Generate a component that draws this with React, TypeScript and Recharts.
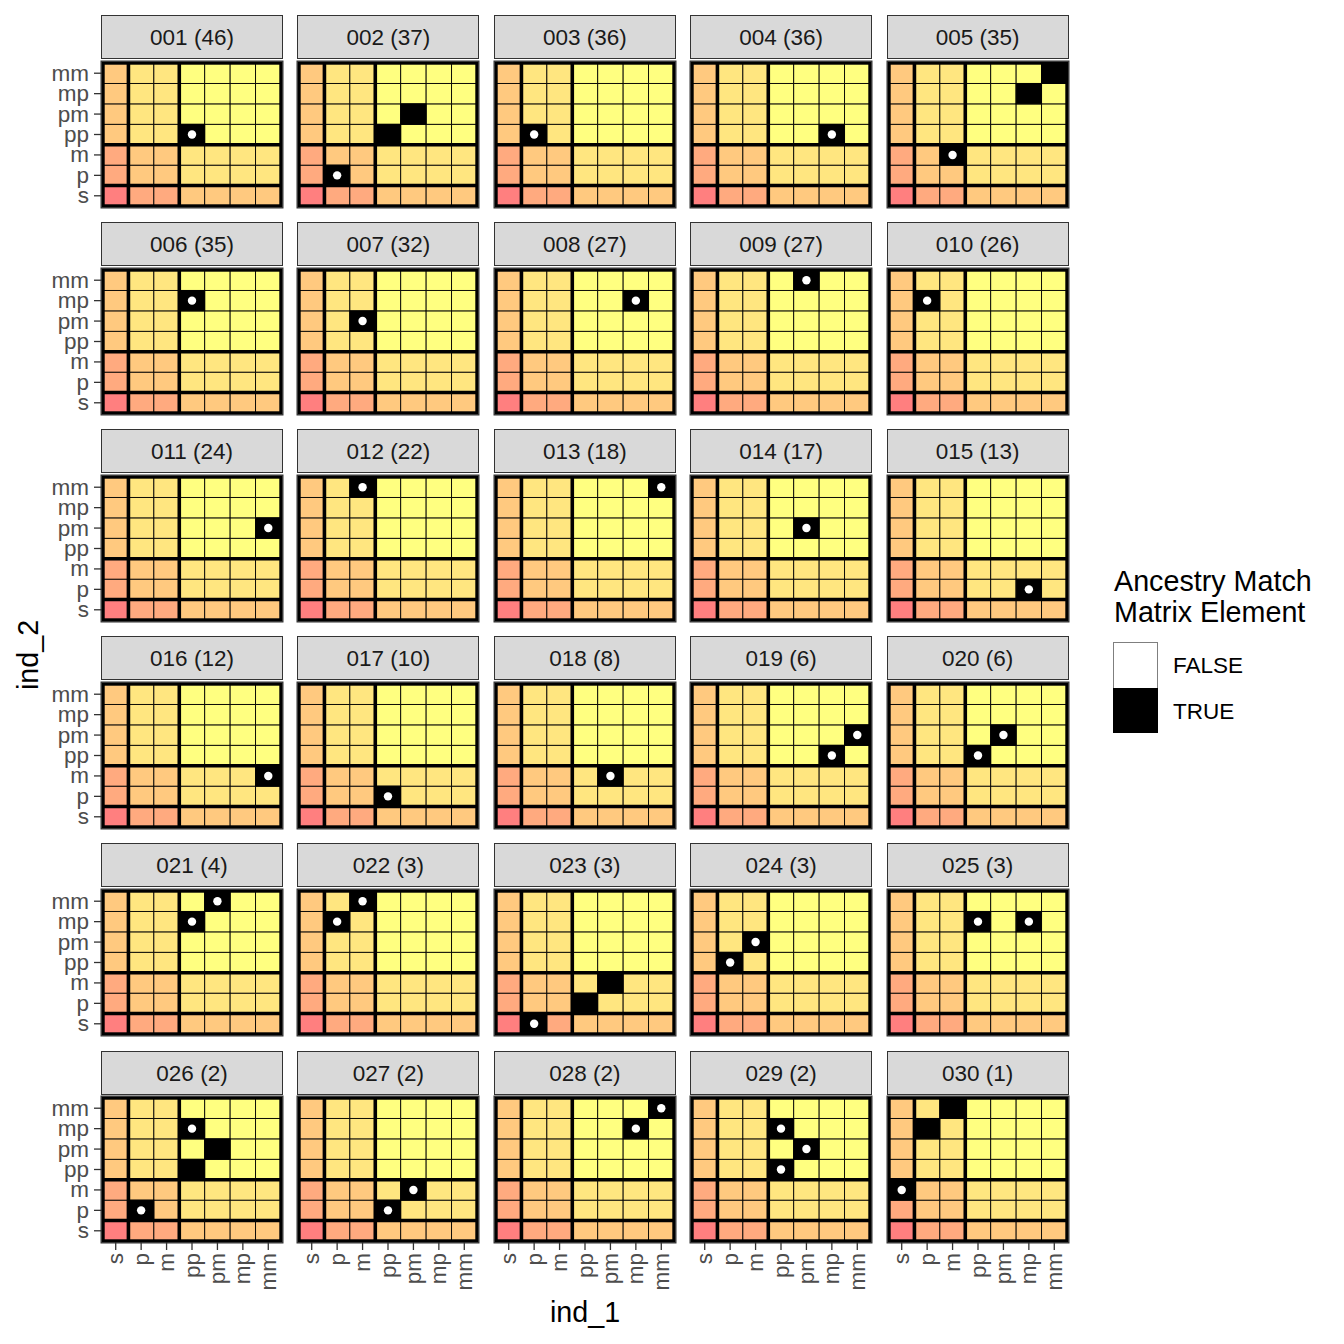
import { ScatterChart, Scatter, XAxis, YAxis } from "recharts";

const axisLabels = ["s", "p", "m", "pp", "pm", "mp", "mm"];
const axisLevels = [0, 1, 1, 2, 2, 2, 2];
const levelColors = ["#FF7F7F", "#FFAA7F", "#FFC97F", "#FFE680", "#FFFF80"];
// thick lines between the s | p,m | pp..mm groups
const groupBreaks = [1.5, 3.5];

const panelIds = [
  "001", "002", "003", "004", "005", "006", "007", "008", "009", "010",
  "011", "012", "013", "014", "015", "016", "017", "018", "019", "020",
  "021", "022", "023", "024", "025", "026", "027", "028", "029", "030",
];
const panelCounts = [46, 37, 36, 36, 35, 35, 32, 27, 27, 26, 24, 22, 18, 17, 13, 12, 10, 8, 6, 6, 4, 3, 3, 3, 3, 2, 2, 2, 2, 1];

// TRUE elements per panel: [ind_1, ind_2, has dot]
const matchTiles: [string, string, boolean][][] = [
  [["pp", "pp", true]],
  [["p", "p", true], ["pp", "pp", false], ["pm", "pm", false]],
  [["p", "pp", true]],
  [["mp", "pp", true]],
  [["m", "m", true], ["mp", "mp", false], ["mm", "mm", false]],
  [["pp", "mp", true]],
  [["m", "pm", true]],
  [["mp", "mp", true]],
  [["pm", "mm", true]],
  [["p", "mp", true]],
  [["mm", "pm", true]],
  [["m", "mm", true]],
  [["mm", "mm", true]],
  [["pm", "pm", true]],
  [["mp", "p", true]],
  [["mm", "m", true]],
  [["pp", "p", true]],
  [["pm", "m", true]],
  [["mp", "pp", true], ["mm", "pm", true]],
  [["pp", "pp", true], ["pm", "pm", true]],
  [["pp", "mp", true], ["pm", "mm", true]],
  [["p", "mp", true], ["m", "mm", true]],
  [["p", "s", true], ["pp", "p", false], ["pm", "m", false]],
  [["p", "pp", true], ["m", "pm", true]],
  [["pp", "mp", true], ["mp", "mp", true]],
  [["p", "p", true], ["pp", "mp", true], ["pm", "pm", false], ["pp", "pp", false]],
  [["pp", "p", true], ["pm", "m", true]],
  [["mp", "mp", true], ["mm", "mm", true]],
  [["pp", "mp", true], ["pm", "pm", true], ["pp", "pp", true]],
  [["s", "m", true], ["p", "mp", false], ["m", "mm", false]],
];

const FONT = "'Liberation Sans', Arial, Helvetica, sans-serif";
const PW = 178;
const PH = 143;
const COL0 = 103;
const COLSTEP = 196.4;
const ROW0 = 62.5;
const ROWSTEP = 207.1;
const LM = 100;
const BM = 100;
const TM = 6;
const RM = 10;
const TW = PW / 7;
const TH = PH / 7;
const tickVals = [1, 2, 3, 4, 5, 6, 7];

const baseTiles = axisLabels.flatMap((xl, xi) =>
  axisLabels.map((yl, yi) => ({
    x: xi + 1,
    y: yi + 1,
    fill: levelColors[axisLevels[xi] + axisLevels[yi]],
  }))
);
// one point at the grid centre, used to place the frame and group lines
const frameCentre = [{ x: 4, y: 4 }];

const tileShape = (p: any) => (
  <rect
    x={p.cx - TW / 2}
    y={p.cy - TH / 2}
    width={TW}
    height={TH}
    fill={p.payload.fill}
    stroke="#000"
    strokeWidth={0.9}
  />
);
const blackShape = (p: any) => (
  <rect x={p.cx - TW / 2} y={p.cy - TH / 2} width={TW} height={TH} fill="#000" stroke="#000" strokeWidth={0.9} />
);
const dotShape = (p: any) => <circle cx={p.cx} cy={p.cy} r={4.2} fill="#fff" />;
const frameShape = (p: any) => {
  const x0 = p.cx - 3.5 * TW;
  const y0 = p.cy - 3.5 * TH;
  return (
    <g>
      {groupBreaks.map((b) => (
        <line key={"v" + b} x1={p.cx + (b - 4) * TW} x2={p.cx + (b - 4) * TW} y1={y0} y2={y0 + PH} stroke="#000" strokeWidth={3.6} />
      ))}
      {groupBreaks.map((b) => (
        <line key={"h" + b} x1={x0} x2={x0 + PW} y1={p.cy - (b - 4) * TH} y2={p.cy - (b - 4) * TH} stroke="#000" strokeWidth={3.6} />
      ))}
      <rect x={x0} y={y0} width={PW} height={PH} fill="none" stroke="#000" strokeWidth={3.4} />
      <rect x={x0 - 1.9} y={y0 - 1.9} width={PW + 3.8} height={PH + 3.8} fill="none" stroke="#333" strokeWidth={1.2} />
    </g>
  );
};

const XTick = (p: any) => (
  <text
    x={p.x}
    y={p.y}
    transform={`rotate(-90, ${p.x}, ${p.y})`}
    textAnchor="end"
    dominantBaseline="central"
    fontSize={22.5}
    fill="#4D4D4D"
    fontFamily={FONT}
  >
    {axisLabels[p.payload.value - 1]}
  </text>
);
const YTick = (p: any) => (
  <text x={p.x} y={p.y} textAnchor="end" dominantBaseline="central" fontSize={22.5} fill="#4D4D4D" fontFamily={FONT}>
    {axisLabels[p.payload.value - 1]}
  </text>
);

function Panel({ idx }: { idx: number }) {
  const c = idx % 5;
  const r = Math.floor(idx / 5);
  const left = COL0 + c * COLSTEP;
  const top = ROW0 + r * ROWSTEP;
  const showY = c === 0;
  const showX = r === 5;
  const matches = matchTiles[idx].map(([a, b, d]) => ({
    x: axisLabels.indexOf(a) + 1,
    y: axisLabels.indexOf(b) + 1,
    dot: d,
  }));
  const dots = matches.filter((m) => m.dot);
  return (
    <>
      <div
        style={{
          position: "absolute",
          left: left - 2,
          top: top - 47.5,
          width: PW + 4,
          height: 44,
          boxSizing: "border-box",
          background: "#D9D9D9",
          border: "1.3px solid #333",
          display: "flex",
          alignItems: "center",
          justifyContent: "center",
          paddingTop: 2,
          fontSize: 22.5,
          color: "#1A1A1A",
          fontFamily: FONT,
        }}
      >
        {`${panelIds[idx]} (${panelCounts[idx]})`}
      </div>
      <div style={{ position: "absolute", left: left - LM, top: top - TM }}>
        <ScatterChart width={LM + PW + RM} height={TM + PH + BM} margin={{ top: TM, right: RM, left: 0, bottom: 0 }}>
          <XAxis
            type="number"
            dataKey="x"
            domain={[0.5, 7.5]}
            ticks={tickVals}
            interval={0}
            height={BM}
            axisLine={false}
            tickLine={showX ? { stroke: "#333", strokeWidth: 1.3 } : false}
            tickSize={9}
            tickMargin={3}
            tick={showX ? XTick : false}
          />
          <YAxis
            type="number"
            dataKey="y"
            domain={[0.5, 7.5]}
            ticks={tickVals}
            interval={0}
            width={LM}
            axisLine={false}
            tickLine={showY ? { stroke: "#333", strokeWidth: 1.3 } : false}
            tickSize={9}
            tickMargin={5}
            tick={showY ? YTick : false}
          />
          <Scatter data={baseTiles} shape={tileShape} isAnimationActive={false} />
          <Scatter data={matches} shape={blackShape} isAnimationActive={false} />
          <Scatter data={frameCentre} shape={frameShape} isAnimationActive={false} />
          <Scatter data={dots} shape={dotShape} isAnimationActive={false} />
        </ScatterChart>
      </div>
    </>
  );
}

export default function App() {
  return (
    <div
      style={{
        position: "absolute",
        left: 0,
        top: 0,
        width: 1344,
        height: 1344,
        background: "#fff",
        fontFamily: FONT,
      }}
    >
      {panelIds.map((_, i) => (
        <Panel key={i} idx={i} />
      ))}
      <div
        style={{
          position: "absolute",
          left: 585,
          top: 1312,
          transform: "translate(-50%, -50%)",
          fontSize: 28.7,
          color: "#000",
          whiteSpace: "nowrap",
        }}
      >
        ind_1
      </div>
      <div
        style={{
          position: "absolute",
          left: 28,
          top: 655,
          transform: "translate(-50%, -50%) rotate(-90deg)",
          fontSize: 28.7,
          color: "#000",
          whiteSpace: "nowrap",
        }}
      >
        ind_2
      </div>
      <div style={{ position: "absolute", left: 1114, top: 566, fontSize: 28.7, lineHeight: "31px", color: "#000", whiteSpace: "nowrap" }}>
        Ancestry Match
        <br />
        Matrix Element
      </div>
      <div
        style={{
          position: "absolute",
          left: 1113,
          top: 642,
          width: 45,
          height: 46,
          boxSizing: "border-box",
          background: "#fff",
          border: "1px solid #7F7F7F",
          borderBottom: "none",
        }}
      />
      <div style={{ position: "absolute", left: 1113, top: 688, width: 45, height: 45, background: "#000" }} />
      <div style={{ position: "absolute", left: 1173, top: 666, transform: "translateY(-50%)", fontSize: 22.5, color: "#000" }}>
        FALSE
      </div>
      <div style={{ position: "absolute", left: 1173, top: 712, transform: "translateY(-50%)", fontSize: 22.5, color: "#000" }}>
        TRUE
      </div>
    </div>
  );
}
